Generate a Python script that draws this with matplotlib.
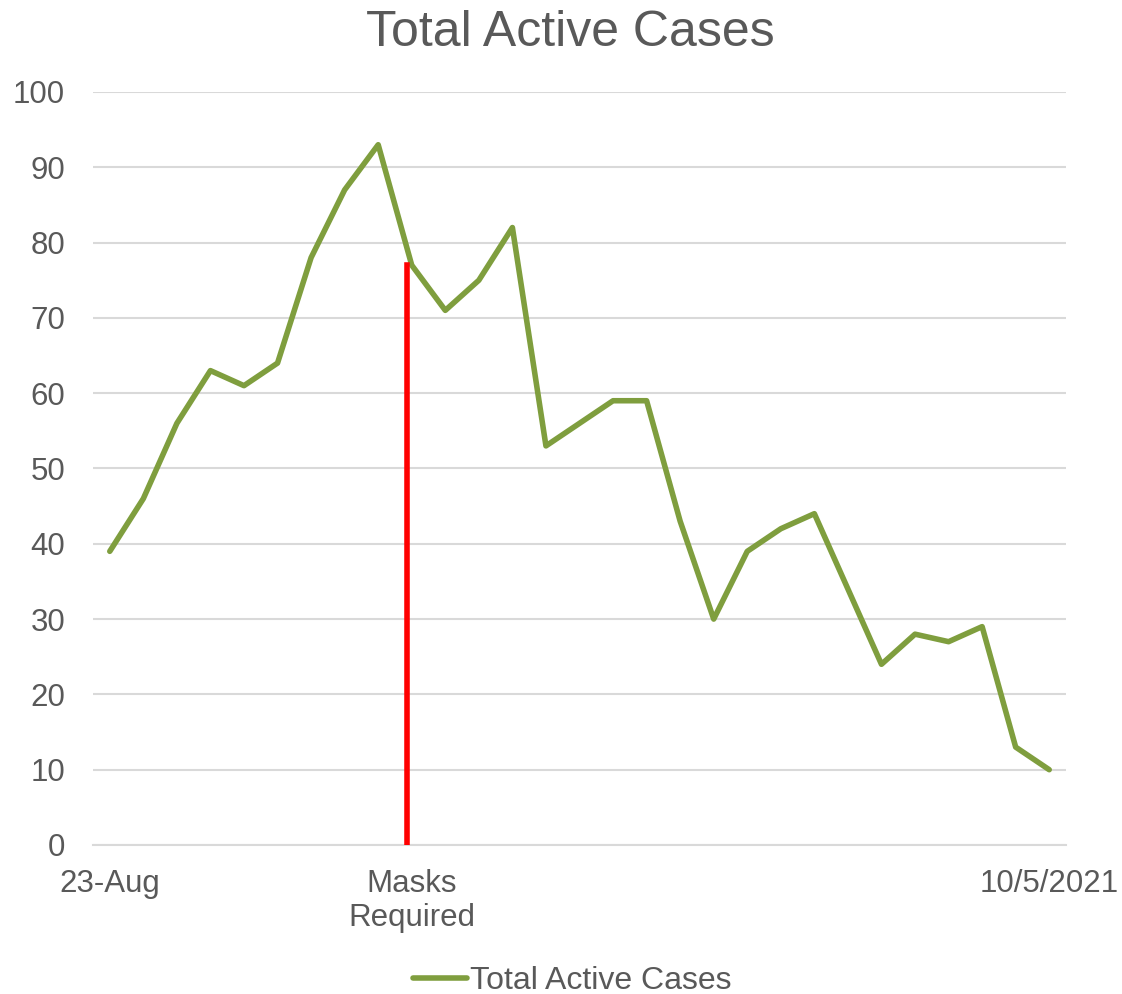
import matplotlib
matplotlib.use('Agg')
from matplotlib import pyplot as plt

plt.rcParams['font.family'] = ['Liberation Sans', 'DejaVu Sans']

cases = [39, 46, 56, 63, 61, 64, 78, 87, 93, 77, 71, 75, 82, 53, 56, 59, 59,
         43, 30, 39, 42, 44, 34, 24, 28, 27, 29, 13, 10]
tick_pos = [0, 9, 28]
tick_labels = ['23-Aug', 'Masks\nRequired', '10/5/2021']
mask_x = 8.87
mask_top = 77

GREEN = '#7f9e3e'
GREY = '#595959'

fig = plt.figure(figsize=(11.22, 9.94), dpi=100)
ax = fig.add_axes([93 / 1122, 1 - 845 / 994, (1066 - 93) / 1122, (845 - 92) / 994])

x = list(range(len(cases)))
ax.plot(x, cases, color=GREEN, lw=4, solid_joinstyle='round',
        solid_capstyle='round', label='Total Active Cases', zorder=3)
ax.plot([mask_x, mask_x], [0, mask_top], color='red', lw=4, zorder=4)

ax.set_xlim(-0.5, len(cases) - 0.5)
ax.set_ylim(0, 100)
ax.set_yticks(range(0, 101, 10))
ax.set_xticks(tick_pos)
ax.set_xticklabels(tick_labels)
ax.grid(axis='y', color='#d9d9d9', lw=1.5, zorder=0)
for s in ['left', 'right', 'top']:
    ax.spines[s].set_visible(False)
ax.spines['bottom'].set_color('#d9d9d9')
ax.spines['bottom'].set_linewidth(1.5)
ax.tick_params(length=0, labelsize=22.5, labelcolor=GREY)
ax.tick_params(axis='x', pad=17)
ax.tick_params(axis='y', pad=20)

fig.suptitle('Total Active Cases', fontsize=36, color=GREY, y=0.99, x=0.508)
fig.legend(loc='lower center', bbox_to_anchor=(0.51, -0.031), frameon=False,
           fontsize=23, handlelength=1.7, handletextpad=0.1, labelcolor=GREY)

fig.savefig('out.png', dpi=100)
